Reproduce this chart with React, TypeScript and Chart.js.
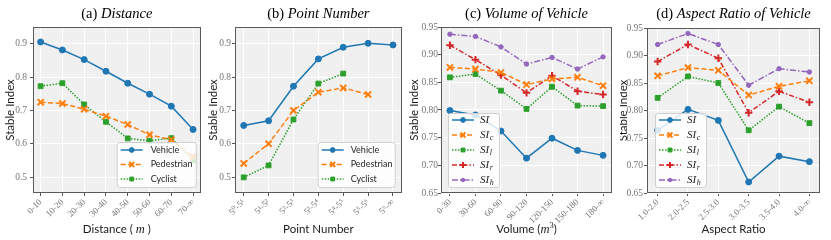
import React, { useEffect, useRef } from 'react';
import { Chart, registerables } from 'chart.js';
Chart.register(...registerables);

// ---------- data ----------
const distanceLabels = ['0-10', '10-20', '20-30', '30-40', '40-50', '50-60', '60-70', '70-∞'];
const distVehicle = [0.906, 0.882, 0.853, 0.818, 0.782, 0.749, 0.713, 0.643];
const distPedestrian = [0.725, 0.721, 0.704, 0.683, 0.658, 0.627, 0.612, 0.561];
const distCyclist = [0.773, 0.782, 0.718, 0.666, 0.616, 0.609, 0.617, 0.551];

const pointLabels = ['5⁰-5¹', '5¹-5²', '5²-5³', '5³-5⁴', '5⁴-5⁵', '5⁵-5⁶', '5⁶-∞'];
const pointVehicle = [0.655, 0.669, 0.773, 0.855, 0.89, 0.902, 0.897];
const pointPedestrian = [0.541, 0.6, 0.7, 0.755, 0.768, 0.748];
const pointCyclist = [0.499, 0.535, 0.673, 0.781, 0.811];

const volumeLabels = ['0-30', '30-60', '60-90', '90-120', '120-150', '150-180', '180-∞'];
const volSI = [0.799, 0.791, 0.762, 0.713, 0.749, 0.727, 0.718];
const volSIc = [0.877, 0.874, 0.868, 0.846, 0.856, 0.859, 0.844];
const volSIl = [0.859, 0.865, 0.835, 0.802, 0.842, 0.808, 0.807];
const volSIr = [0.917, 0.891, 0.863, 0.831, 0.862, 0.834, 0.828];
const volSIh = [0.937, 0.933, 0.914, 0.883, 0.895, 0.874, 0.896];

const aspectLabels = ['1.0-2.0', '2.0-2.5', '2.5-3.0', '3.0-3.5', '3.5-4.0', '4.0-∞'];
const aspSI = [0.764, 0.802, 0.782, 0.67, 0.717, 0.707];
const aspSIc = [0.863, 0.878, 0.873, 0.828, 0.844, 0.854];
const aspSIl = [0.823, 0.862, 0.85, 0.764, 0.807, 0.777];
const aspSIr = [0.889, 0.92, 0.895, 0.796, 0.835, 0.815];
const aspSIh = [0.92, 0.94, 0.92, 0.846, 0.876, 0.87];

const ticksAB = [0.5, 0.6, 0.7, 0.8, 0.9];
const ticksCD = [0.65, 0.7, 0.75, 0.8, 0.85, 0.9, 0.95];

// ---------- styles ----------
const SANS = "Lato, 'Open Sans', sans-serif";
const SERIF = "'Liberation Serif', 'DejaVu Serif', 'Times New Roman', serif";

type Marker = 'circle' | 'rect' | 'crossRot' | 'cross';
interface SStyle { color: string; dash: number[]; marker: Marker; r: number; bw: number; }
const ST_SOLID: SStyle = { color: '#1f77b4', dash: [], marker: 'circle', r: 3, bw: 1 };
const ST_DASH: SStyle = { color: '#ff7f0e', dash: [5, 2.5], marker: 'crossRot', r: 4.3, bw: 2 };
const ST_DOT: SStyle = { color: '#2ca02c', dash: [1.5, 1.5], marker: 'rect', r: 3.4, bw: 1 };
const ST_DASHDOT: SStyle = { color: '#d62728', dash: [5, 2, 1.5, 2], marker: 'cross', r: 3.7, bw: 2 };
const ST_DASHDOT2: SStyle = { color: '#9467bd', dash: [6, 2, 1.5, 2], marker: 'circle', r: 2.2, bw: 1 };

interface Part { t: string; f: string; dy?: number; c?: string; }
interface Series { label: string; sub?: string; data: number[]; style: SStyle; }
interface Panel {
  key: string; left: number; width: number; yW: number; rp: number; top: number; yPad: number;
  tag: string; name: string; xTitle: Part[]; labels: string[]; series: Series[];
  yMin: number; yMax: number; yTicks: number[]; dec: number;
  legend: { corner: 'right' | 'left'; off: number; w: number; h: number; pad: number; spacing: number; textX: number; math: boolean };
  yTitleX: number;
}

const xFont = `11.5px ${SANS}`;
const panels: Panel[] = [
  {
    key: 'a', left: 0, width: 207, yW: 33, rp: 6, top: 27, yPad: 3, tag: '(a) ', name: 'Distance',
    xTitle: [{ t: 'Distance ( ', f: xFont }, { t: 'm', f: `italic 12.5px ${SERIF}` }, { t: ' )', f: xFont }],
    labels: distanceLabels,
    series: [
      { label: 'Vehicle', data: distVehicle, style: ST_SOLID },
      { label: 'Pedestrian', data: distPedestrian, style: ST_DASH },
      { label: 'Cyclist', data: distCyclist, style: ST_DOT },
    ],
    yMin: 0.452, yMax: 0.951, yTicks: ticksAB, dec: 1,
    legend: { corner: 'right', off: 5, w: 79, h: 45, pad: 8, spacing: 14.5, textX: 34, math: false },
    yTitleX: 14,
  },
  {
    key: 'b', left: 207, width: 201, yW: 28, rp: 3, top: 27, yPad: 1, tag: '(b) ', name: 'Point Number',
    xTitle: [{ t: 'Point Number', f: xFont }],
    labels: pointLabels,
    series: [
      { label: 'Vehicle', data: pointVehicle, style: ST_SOLID },
      { label: 'Pedestrian', data: pointPedestrian, style: ST_DASH },
      { label: 'Cyclist', data: pointCyclist, style: ST_DOT },
    ],
    yMin: 0.452, yMax: 0.951, yTicks: ticksAB, dec: 1,
    legend: { corner: 'right', off: 7, w: 77, h: 45, pad: 8, spacing: 14.5, textX: 33, math: false },
    yTitleX: 10,
  },
  {
    key: 'c', left: 408, width: 212, yW: 33, rp: 8, top: 27, yPad: 0, tag: '(c) ', name: 'Volume of Vehicle',
    xTitle: [{ t: 'Volume (', f: xFont }, { t: 'm', f: `italic 12.5px ${SERIF}` }, { t: '3', f: `8.5px ${SERIF}`, dy: -5 }, { t: ')', f: xFont }],
    labels: volumeLabels,
    series: [
      { label: 'SI', sub: '', data: volSI, style: ST_SOLID },
      { label: 'SI', sub: 'c', data: volSIc, style: ST_DASH },
      { label: 'SI', sub: 'l', data: volSIl, style: ST_DOT },
      { label: 'SI', sub: 'r', data: volSIr, style: ST_DASHDOT },
      { label: 'SI', sub: 'h', data: volSIh, style: ST_DASHDOT2 },
    ],
    yMin: 0.65, yMax: 0.95, yTicks: ticksCD, dec: 2,
    legend: { corner: 'left', off: 7, w: 51, h: 74, pad: 7, spacing: 15, textX: 32, math: true },
    yTitleX: 10,
  },
  {
    key: 'd', left: 620, width: 211, yW: 27, rp: 11, top: 28, yPad: 1, tag: '(d) ', name: 'Aspect Ratio of Vehicle',
    xTitle: [{ t: 'Aspect Ratio', f: xFont }],
    labels: aspectLabels,
    series: [
      { label: 'SI', sub: '', data: aspSI, style: ST_SOLID },
      { label: 'SI', sub: 'c', data: aspSIc, style: ST_DASH },
      { label: 'SI', sub: 'l', data: aspSIl, style: ST_DOT },
      { label: 'SI', sub: 'r', data: aspSIr, style: ST_DASHDOT },
      { label: 'SI', sub: 'h', data: aspSIh, style: ST_DASHDOT2 },
    ],
    yMin: 0.65, yMax: 0.95, yTicks: ticksCD, dec: 2,
    legend: { corner: 'left', off: 8, w: 51, h: 74, pad: 7, spacing: 15, textX: 32, math: true },
    yTitleX: 7,
  },
];

// ---------- drawing helpers ----------
function drawRich(ctx: CanvasRenderingContext2D, parts: Part[], cx: number, y: number) {
  let total = 0;
  for (const p of parts) { ctx.font = p.f; total += ctx.measureText(p.t).width; }
  let x = cx - total / 2;
  for (const p of parts) {
    ctx.font = p.f;
    ctx.fillStyle = p.c || '#1a1a1a';
    ctx.fillText(p.t, x, y + (p.dy || 0));
    x += ctx.measureText(p.t).width;
  }
}

function drawMarker(ctx: CanvasRenderingContext2D, st: SStyle, x: number, y: number, scale: number) {
  const r = st.r * scale;
  ctx.save();
  ctx.setLineDash([]);
  ctx.fillStyle = st.color;
  ctx.strokeStyle = st.color;
  ctx.lineWidth = st.bw;
  ctx.beginPath();
  if (st.marker === 'circle') {
    ctx.arc(x, y, r, 0, Math.PI * 2);
    ctx.fill();
    ctx.stroke();
  } else if (st.marker === 'rect') {
    const s = r * Math.SQRT1_2;
    ctx.rect(x - s, y - s, 2 * s, 2 * s);
    ctx.fill();
    ctx.stroke();
  } else if (st.marker === 'crossRot') {
    const d = r * Math.SQRT1_2;
    ctx.moveTo(x - d, y - d); ctx.lineTo(x + d, y + d);
    ctx.moveTo(x + d, y - d); ctx.lineTo(x - d, y + d);
    ctx.stroke();
  } else {
    ctx.moveTo(x - r, y); ctx.lineTo(x + r, y);
    ctx.moveTo(x, y - r); ctx.lineTo(x, y + r);
    ctx.stroke();
  }
  ctx.restore();
}

function roundRect(ctx: CanvasRenderingContext2D, x: number, y: number, w: number, h: number, r: number) {
  ctx.beginPath();
  ctx.moveTo(x + r, y);
  ctx.lineTo(x + w - r, y); ctx.arcTo(x + w, y, x + w, y + r, r);
  ctx.lineTo(x + w, y + h - r); ctx.arcTo(x + w, y + h, x + w - r, y + h, r);
  ctx.lineTo(x + r, y + h); ctx.arcTo(x, y + h, x, y + h - r, r);
  ctx.lineTo(x, y + r); ctx.arcTo(x, y, x + r, y, r);
  ctx.closePath();
}

function makePlugin(p: Panel) {
  return {
    id: 'decor_' + p.key,
    beforeDraw(chart: any) {
      const { ctx, chartArea: ca } = chart;
      ctx.save();
      ctx.fillStyle = '#ffffff';
      ctx.fillRect(0, 0, chart.width, chart.height);
      ctx.fillStyle = '#f0f0f0';
      ctx.fillRect(ca.left, ca.top, ca.right - ca.left, ca.bottom - ca.top);
      ctx.restore();
    },
    afterDraw(chart: any) {
      const { ctx, chartArea: ca } = chart;
      ctx.save();
      // frame
      ctx.strokeStyle = '#5a5a5a';
      ctx.lineWidth = 1;
      ctx.strokeRect(Math.round(ca.left) + 0.5, Math.round(ca.top) + 0.5, Math.round(ca.right - ca.left) - 1, Math.round(ca.bottom - ca.top) - 1);
      // title
      ctx.textBaseline = 'alphabetic';
      drawRich(ctx, [
        { t: p.tag, f: `14.5px ${SERIF}`, c: '#000' },
        { t: p.name, f: `italic 14.5px ${SERIF}`, c: '#000' },
      ], (ca.left + ca.right) / 2, 17.5);
      // x title
      drawRich(ctx, p.xTitle, (ca.left + ca.right) / 2, 233);
      // y title
      ctx.save();
      ctx.translate(p.yTitleX, (ca.top + ca.bottom) / 2);
      ctx.rotate(-Math.PI / 2);
      ctx.font = `11.5px ${SANS}`;
      ctx.fillStyle = '#1a1a1a';
      ctx.textAlign = 'center';
      ctx.textBaseline = 'alphabetic';
      ctx.fillText('Stable Index', 0, 0);
      ctx.restore();
      // legend
      const L = p.legend;
      const bx = L.corner === 'right' ? ca.right - L.off - L.w : ca.left + L.off;
      const by = ca.bottom - 6 - L.h;
      roundRect(ctx, bx + 0.5, by + 0.5, L.w, L.h, 2.5);
      ctx.fillStyle = 'rgba(255,255,255,0.82)';
      ctx.fill();
      ctx.strokeStyle = '#d0d0d0';
      ctx.lineWidth = 1;
      ctx.stroke();
      p.series.forEach((s, i) => {
        const ey = by + L.pad + i * L.spacing;
        ctx.save();
        ctx.strokeStyle = s.style.color;
        ctx.lineWidth = 1.5;
        ctx.setLineDash(s.style.dash);
        ctx.beginPath();
        ctx.moveTo(bx + 4, ey);
        ctx.lineTo(bx + 26, ey);
        ctx.stroke();
        ctx.restore();
        drawMarker(ctx, s.style, bx + 15, ey, 0.8);
        ctx.textBaseline = 'middle';
        ctx.textAlign = 'left';
        ctx.fillStyle = '#262626';
        if (L.math) {
          ctx.font = `italic 11px ${SERIF}`;
          ctx.fillText(s.label, bx + L.textX, ey);
          const w = ctx.measureText(s.label).width;
          if (s.sub) {
            ctx.font = `italic 8px ${SERIF}`;
            ctx.fillText(s.sub, bx + L.textX + w + 0.5, ey + 3);
          }
        } else {
          ctx.font = `9px ${SANS}`;
          ctx.fillText(s.label, bx + L.textX, ey);
        }
      });
      ctx.restore();
    },
  };
}

function PanelChart({ p }: { p: Panel }) {
  const ref = useRef<HTMLCanvasElement | null>(null);
  useEffect(() => {
    if (!ref.current) return;
    const n = p.labels.length;
    const chart = new Chart(ref.current, {
      type: 'line',
      data: {
        datasets: p.series.map((s) => ({
          label: s.label + (s.sub || ''),
          data: s.data.map((v, i) => ({ x: i, y: v })),
          borderColor: s.style.color,
          backgroundColor: s.style.color,
          borderWidth: 1.5,
          borderDash: s.style.dash,
          pointStyle: s.style.marker,
          pointRadius: s.style.r,
          pointBorderWidth: s.style.bw,
          pointBackgroundColor: s.style.color,
          pointBorderColor: s.style.color,
          fill: false,
          tension: 0,
        })),
      },
      options: {
        animation: false,
        responsive: false,
        maintainAspectRatio: false,
        layout: { padding: { left: 0, right: p.rp, top: p.top, bottom: 0 } },
        plugins: { legend: { display: false }, tooltip: { enabled: false }, title: { display: false } },
        scales: {
          x: {
            type: 'linear',
            min: -0.35,
            max: n - 1 + 0.35,
            afterBuildTicks: (scale: any) => { scale.ticks = p.labels.map((_, i) => ({ value: i })); },
            afterFit: (scale: any) => { scale.height = 47; scale.paddingLeft = 0; scale.paddingRight = 0; },
            ticks: {
              autoSkip: false,
              maxRotation: 45,
              minRotation: 45,
              padding: 1,
              color: '#777',
              font: { family: SERIF, size: 9 },
              callback: (v: any) => p.labels[Math.round(Number(v))] ?? '',
            },
            grid: { color: '#ffffff', lineWidth: 1, drawTicks: true, tickLength: 3, tickColor: '#555' },
            border: { display: false },
          },
          y: {
            type: 'linear',
            min: p.yMin,
            max: p.yMax,
            afterBuildTicks: (scale: any) => { scale.ticks = p.yTicks.map((v) => ({ value: v })); },
            afterFit: (scale: any) => { scale.width = p.yW; scale.paddingTop = 0; scale.paddingBottom = 0; },
            ticks: {
              padding: p.yPad,
              color: '#777',
              font: { family: SERIF, size: 9.5 },
              callback: (v: any) => Number(v).toFixed(p.dec),
            },
            grid: { color: '#ffffff', lineWidth: 1, drawTicks: true, tickLength: 3, tickColor: '#555' },
            border: { display: false },
          },
        },
      },
      plugins: [makePlugin(p)],
    } as any);
    return () => chart.destroy();
  }, [p]);
  return (
    <canvas
      ref={ref}
      width={p.width}
      height={240}
      style={{ position: 'absolute', left: p.left, top: 0, width: p.width, height: 240, display: 'block' }}
    />
  );
}

export default function App() {
  return (
    <div style={{ position: 'fixed', left: 0, top: 0, width: 831, height: 240, background: '#fff', overflow: 'hidden' }}>
      {panels.map((p) => (
        <PanelChart key={p.key} p={p} />
      ))}
    </div>
  );
}
